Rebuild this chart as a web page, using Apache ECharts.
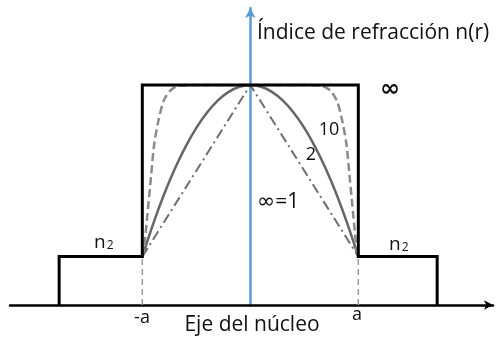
<!DOCTYPE html>
<html>
<head>
<meta charset="utf-8">
<script src="https://cdn.jsdelivr.net/npm/echarts@6/dist/echarts.min.js"></script>
<style>
  html, body { margin: 0; padding: 0; background: #fff; }
  #chart { width: 498px; height: 339px; }
</style>
</head>
<body>
<div id="chart"></div>
<script>
// Radial position in units of the core radius a; index normalised so n1 = 1.
const n1 = 1.0;
const n2 = 0.22;
const claddingLeft = -1.77;
const claddingRight = 1.73;

// Step-index profile (alpha = infinity)
const stepX = [claddingLeft, claddingLeft, -1, -1, 1, 1, claddingRight, claddingRight];
const stepY = [0, n2, n2, n1, n1, n2, n2, 0];

// Graded profiles, sampled across the core
const alpha1X = [-1, 0, 1];
const alpha1Y = [n2, n1, n2];

const alpha2X = [-1, -0.9, -0.8, -0.7, -0.6, -0.5, -0.4, -0.3, -0.2, -0.1, 0, 0.1, 0.2, 0.3, 0.4, 0.5, 0.6, 0.7, 0.8, 0.9, 1];
const alpha2Y = [0.22, 0.368, 0.501, 0.618, 0.719, 0.805, 0.875, 0.930, 0.969, 0.992, 1, 0.992, 0.969, 0.930, 0.875, 0.805, 0.719, 0.618, 0.501, 0.368, 0.22];

const alpha10X = [-1, -0.985, -0.955, -0.92, -0.89, -0.85, -0.8, -0.74, -0.67, -0.5, 0, 0.5, 0.67, 0.74, 0.8, 0.85, 0.89, 0.92, 0.955, 0.985, 1];
const alpha10Y = [0.22, 0.25, 0.40, 0.58, 0.73, 0.84, 0.93, 0.975, 0.995, 1, 1, 1, 0.995, 0.975, 0.93, 0.84, 0.73, 0.58, 0.40, 0.25, 0.22];

// Guides dropping from the core edges to the axis
const guideX = [-1, 1];
const guideTop = n2;

const zip = (xs, ys) => xs.map((x, i) => [x, ys[i]]);

const chart = echarts.init(document.getElementById('chart'), null, { renderer: 'canvas' });

const font = '"Open Sans", "Noto Sans", sans-serif';
const symFont = '"DejaVu Sans", sans-serif';
const txt = (text, x, y, size, align) => ({
  type: 'text', x, y, z: 100,
  style: { text, fontSize: size, fontFamily: font, fill: '#111', align: align || 'left', verticalAlign: 'middle' }
});
const richTxt = (text, x, y, rich) => ({
  type: 'text', x, y, z: 100,
  style: { text, fontFamily: font, fill: '#111', verticalAlign: 'middle', rich }
});
const n2Rich = {
  n: { fontSize: 19, fontFamily: font, fill: '#111' },
  s: { fontSize: 12, fontFamily: font, fill: '#111', padding: [6, 0, 0, 1] }
};
const infRich = {
  i: { fontSize: 22, fontFamily: symFont, fill: '#111' },
  t: { fontSize: 21, fontFamily: font, fill: '#111' }
};

chart.setOption({
  animation: false,
  grid: { left: 10, right: 5, top: 8, bottom: 34 },
  xAxis: {
    type: 'value', min: -2.225, max: 2.247,
    axisLine: { show: true, lineStyle: { color: '#000', width: 2.5 }, symbol: ['none', 'arrow'], symbolSize: [7, 9] },
    axisTick: { show: false }, axisLabel: { show: false }, splitLine: { show: false }
  },
  yAxis: {
    type: 'value', min: 0, max: 1.35,
    axisLine: { show: true, onZero: true, lineStyle: { color: '#5B9BD5', width: 2.5 }, symbol: ['none', 'arrow'], symbolSize: [8, 10] },
    axisTick: { show: false }, axisLabel: { show: false }, splitLine: { show: false }
  },
  series: [
    {
      name: 'guide-left', type: 'line', data: [[guideX[0], 0], [guideX[0], guideTop]], symbol: 'none',
      lineStyle: { color: '#999', width: 1.5, type: [6, 4] }
    },
    {
      name: 'guide-right', type: 'line', data: [[guideX[1], 0], [guideX[1], guideTop]], symbol: 'none',
      lineStyle: { color: '#999', width: 1.5, type: [6, 4] }
    },
    {
      name: 'alpha 1', type: 'line', data: zip(alpha1X, alpha1Y), symbol: 'none',
      lineStyle: { color: '#6e6e6e', width: 2, type: [10, 4, 2, 4] }
    },
    {
      name: 'alpha 2', type: 'line', data: zip(alpha2X, alpha2Y), symbol: 'none', smooth: 0.3,
      lineStyle: { color: '#666', width: 2.5 }
    },
    {
      name: 'alpha 10', type: 'line', data: zip(alpha10X, alpha10Y), symbol: 'none', smooth: 0.3,
      lineStyle: { color: '#8a8a8a', width: 2.5, type: [8, 4] }
    },
    {
      name: 'step', type: 'line', data: zip(stepX, stepY), symbol: 'none', z: 5,
      lineStyle: { color: '#000', width: 3, join: 'miter' }
    }
  ],
  graphic: [
    txt('Índice de refracción n(r)', 257, 33, 21),
    txt('Eje del núcleo', 252, 325, 21, 'center'),
    txt('-a', 142, 318, 18, 'center'),
    txt('a', 357, 315, 18, 'center'),
    richTxt('{i|∞}', 380, 90, { i: { fontSize: 24, fontFamily: symFont, fill: '#111', fontWeight: 'bold' } }),
    txt('10', 329, 130, 18, 'center'),
    txt('2', 311, 155, 18, 'center'),
    richTxt('{i|∞}{t|=1}', 257, 202, infRich),
    richTxt('{n|n}{s|2}', 94, 243, n2Rich),
    richTxt('{n|n}{s|2}', 389, 245, n2Rich)
  ]
});
</script>
</body>
</html>
